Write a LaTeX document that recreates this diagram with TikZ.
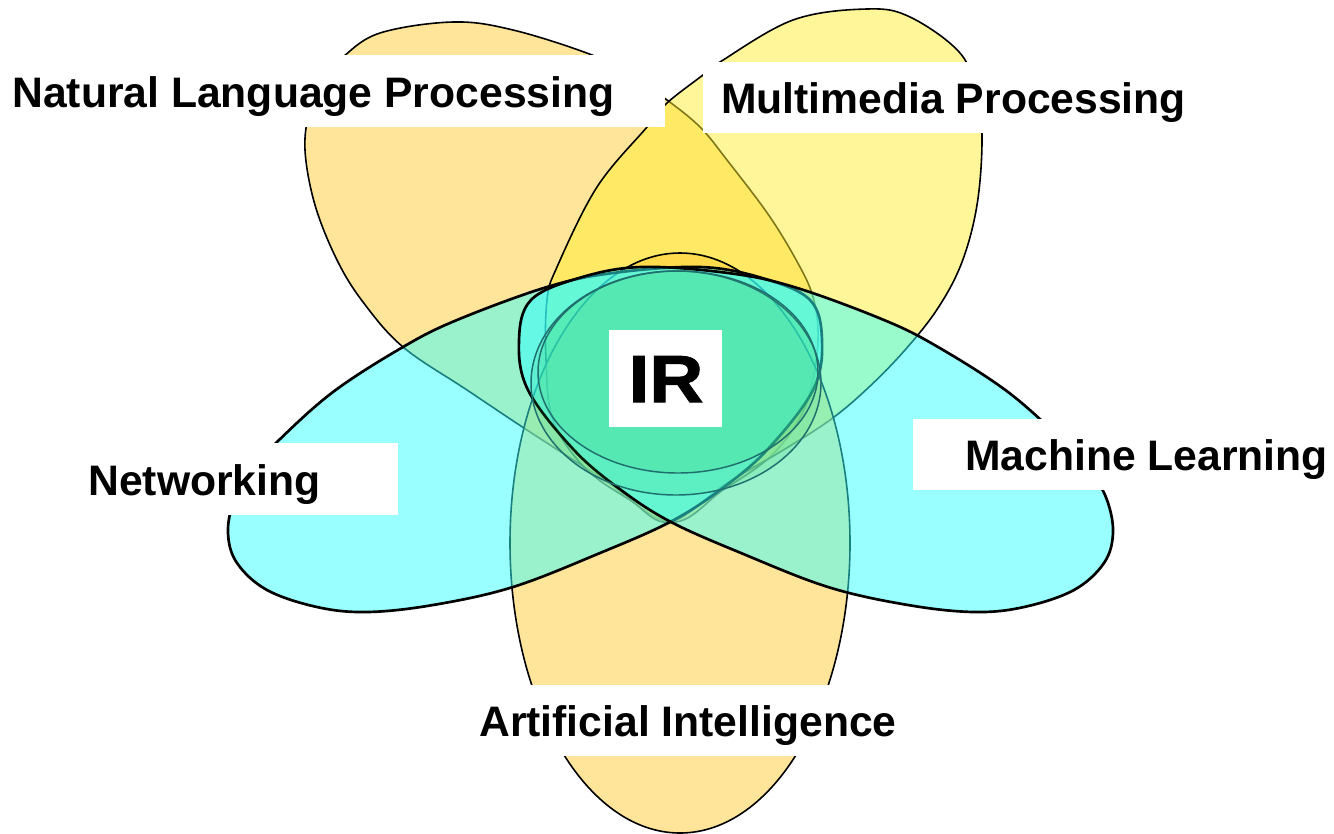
\documentclass[tikz,border=0pt]{standalone}
\usepackage{fontspec}
\setmainfont{Liberation Sans}
\newfontfamily\irfont{Liberation Sans Bold}[FakeStretch=1.12,FakeBold=1.5]
\definecolor{nlpc}{HTML}{FFCC33}
\definecolor{mmc}{HTML}{FFEE33}
\definecolor{aic}{HTML}{FFCC33}
\definecolor{cyc}{HTML}{33FFFF}
\definecolor{irc}{HTML}{33CC66}
\definecolor{irline}{HTML}{1F6F6F}
\begin{document}
\begin{tikzpicture}[x=0.75pt,y=-0.75pt,
  petal/.style={fill opacity=0.5, draw=black, line width=1.2pt},
  bigpetal/.style={fill opacity=0.5, draw=black, line width=2pt},
  irshape/.style={fill=irc, fill opacity=0.15, draw=irline, line width=1.1pt},
  labelbox/.style={fill=white, draw=none},
  lbl/.style={font=\bfseries\fontsize{32}{37}\selectfont, inner sep=0pt, anchor=base west}]
\useasboundingbox (0,0) rectangle (1334,833);
% Natural Language Processing petal
\path[petal, fill=nlpc] plot[smooth cycle, tension=0.6] coordinates {
 (670,522) (600,477) (530,432) (467,390) (403,347) (363,302)
 (337,260) (315,205) (305,150) (310,110) (325,78) (343,57) (380,33) (453,22)
 (513,30) (592,55) (632,76) (667,100) (700,127) (727,160) (770,217) (800,267)
 (813,297) (818,330) (815,368) (803,412) (772,455) (723,490)};
% Multimedia Processing petal
\path[petal, fill=mmc] plot[smooth cycle, tension=0.6] coordinates {
 (670,522) (727,483) (780,452) (830,420) (868,388) (905,350) (938,308)
 (962,262) (977,205) (982,140) (977,95) (960,53) (910,17) (867,9) (793,20)
 (720,62) (703,75) (667,103) (647,127) (597,187) (557,267) (547,300)
 (546,360) (553,420) (585,468) (630,500)};
% Artificial Intelligence petal
\path[petal, fill=aic] (680,543) ellipse [x radius=170, y radius=290];
% Networking petal
\path[bigpetal, fill=cyc] plot[smooth cycle, tension=0.6] coordinates {
 (228,533) (234,500) (250,472) (277,442) (333,392) (403,347) (457,320)
 (547,287) (613,273) (700,267) (762,278) (810,300) (822,340) (813,390)
 (767,450) (720,490) (670,522) (600,553) (513,587) (433,605) (367,612)
 (317,607) (267,590) (237,563)};
% Machine Learning petal
\path[bigpetal, fill=cyc] plot[smooth cycle, tension=0.6] coordinates {
 (1113,533) (1107,500) (1091,472) (1064,442) (1008,392) (938,347) (884,320)
 (794,287) (728,273) (641,267) (579,278) (531,300) (519,340) (528,390)
 (574,450) (621,490) (671,522) (741,553) (828,587) (908,605) (974,612)
 (1024,607) (1074,590) (1104,563)};
% IR core
\path[irshape] (676,383) ellipse [x radius=145, y radius=112];
\path[irshape] (678,372) ellipse [x radius=140, y radius=101];
% label boxes
\path[labelbox] (0,55) rectangle (665,127);
\path[labelbox] (703,62) rectangle (1210,133);
\path[labelbox] (80,443) rectangle (398,515);
\path[labelbox] (913,419) rectangle (1334,490);
\path[labelbox] (470,685) rectangle (905,756);
\path[labelbox] (609,330) rectangle (722,427);
% labels
\node[lbl] (nlp) at (12,107) {Natural Language Processing};
\node[lbl] (mm) at (721,113) {Multimedia Processing};
\node[lbl] (net) at (88,495) {Networking};
\node[lbl] (ml) at (965,470) {Machine Learning};
\node[lbl] (ai) at (479,736) {Artificial Intelligence};
\node[inner sep=0pt, anchor=base, font=\irfont\fontsize{50}{56}\selectfont] (ir) at (666,402) {IR};
\end{tikzpicture}
\end{document}
